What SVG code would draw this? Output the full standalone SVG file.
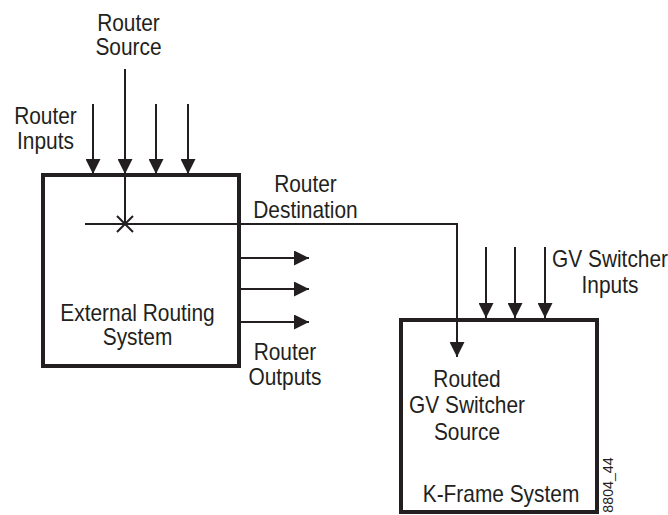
<svg xmlns="http://www.w3.org/2000/svg" width="668" height="515" viewBox="0 0 668 515">
<style>
.box{fill:#fff;stroke:#231f20;stroke-width:4}
.ln{fill:none;stroke:#231f20;stroke-width:2}
.arr{fill:none;stroke:#231f20;stroke-width:2;marker-end:url(#ah)}
.t{font-family:"Liberation Sans",Arial,sans-serif;font-size:24px;fill:#231f20;text-anchor:middle}
.s{font-family:"Liberation Sans",Arial,sans-serif;font-size:15px;fill:#231f20;text-anchor:middle}
</style>
<defs>
<marker id="ah" viewBox="0 0 15 15" refX="15" refY="7.5" markerWidth="15" markerHeight="15" markerUnits="userSpaceOnUse" orient="auto">
<path d="M0 0L15 7.5L0 15Z" fill="#231f20"/>
</marker>
</defs>
<g id="external-routing-system">
<rect class="box" x="43" y="175" width="196" height="191"/>
<text class="t" transform="translate(137.5 0) scale(0.87 1)"><tspan x="0" y="321">External Routing</tspan><tspan x="0" y="345">System</tspan></text>
</g>
<g id="k-frame-system">
<rect class="box" x="401" y="320" width="196" height="192"/>
<text class="t" transform="translate(467 0) scale(0.87 1)"><tspan x="0" y="387">Routed</tspan><tspan x="0" y="413">GV Switcher</tspan><tspan x="0" y="440">Source</tspan></text>
<text class="t" transform="translate(501 0) scale(0.87 1)" x="0" y="502">K-Frame System</text>
</g>
<g id="connectors">
<line class="arr" x1="125" y1="69" x2="125" y2="174"/>
<line class="ln" x1="125" y1="175" x2="125" y2="224"/>
<line class="arr" x1="93" y1="104" x2="93" y2="174"/>
<line class="arr" x1="156" y1="104" x2="156" y2="174"/>
<line class="arr" x1="188" y1="104" x2="188" y2="174"/>
<path class="ln" d="M117 216L133 232M133 216L117 232"/>
<path class="arr" d="M85 224H457V357"/>
<line class="arr" x1="241" y1="258" x2="309" y2="258"/>
<line class="arr" x1="241" y1="289" x2="309" y2="289"/>
<line class="arr" x1="241" y1="322" x2="309" y2="322"/>
<line class="arr" x1="486" y1="247" x2="486" y2="318"/>
<line class="arr" x1="515" y1="247" x2="515" y2="318"/>
<line class="arr" x1="545" y1="247" x2="545" y2="318"/>
</g>
<g id="labels">
<text class="t" transform="translate(128.5 0) scale(0.87 1)"><tspan x="0" y="31">Router</tspan><tspan x="0" y="55">Source</tspan></text>
<text class="t" transform="translate(45.5 0) scale(0.87 1)"><tspan x="0" y="124">Router</tspan><tspan x="0" y="149">Inputs</tspan></text>
<text class="t" transform="translate(305.5 0) scale(0.87 1)"><tspan x="0" y="192">Router</tspan><tspan x="0" y="218">Destination</tspan></text>
<text class="t" transform="translate(285 0) scale(0.87 1)"><tspan x="0" y="360">Router</tspan><tspan x="0" y="385">Outputs</tspan></text>
<text class="t" transform="translate(610 0) scale(0.87 1)"><tspan x="0" y="267">GV Switcher</tspan><tspan x="0" y="293">Inputs</tspan></text>
<text class="s" transform="translate(613 485) rotate(-90) scale(0.95 1)" x="0" y="0">8804_44</text>
</g>
</svg>
